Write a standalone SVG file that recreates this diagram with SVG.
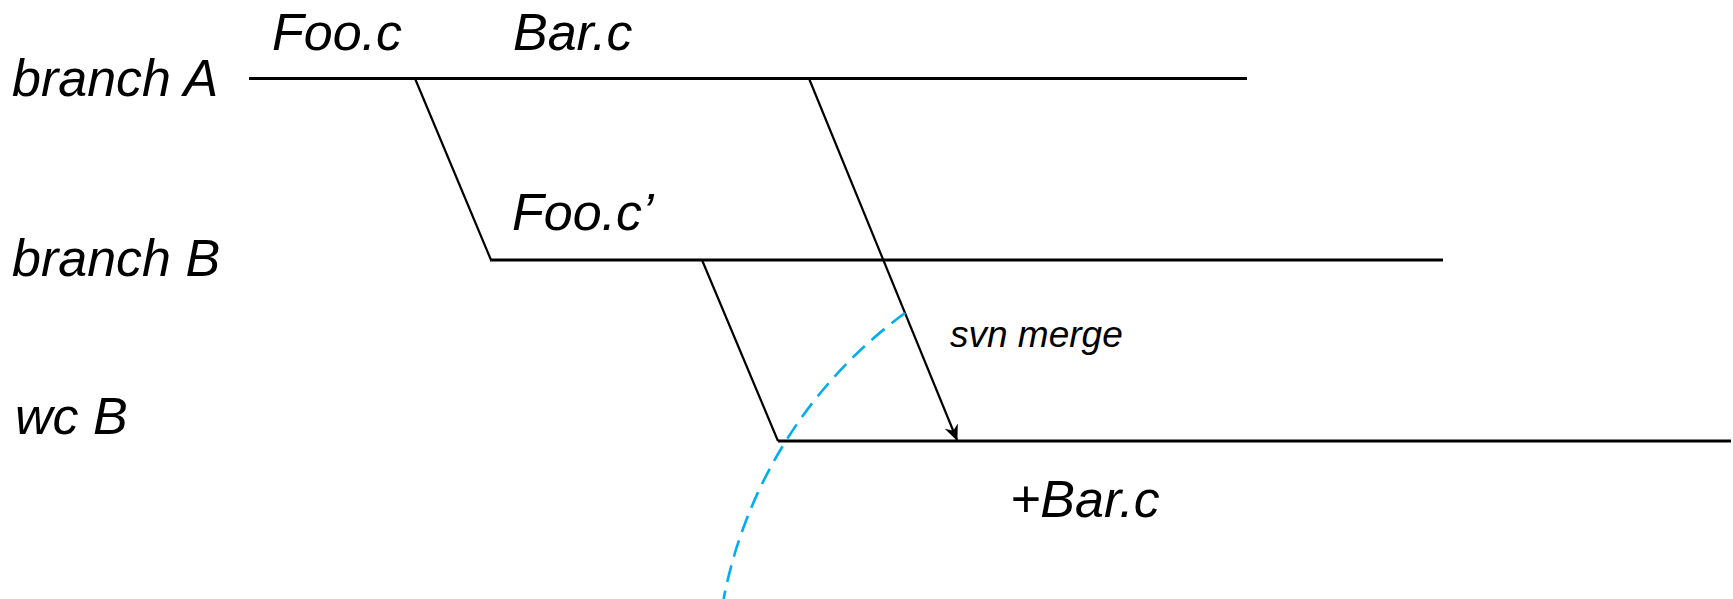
<svg xmlns="http://www.w3.org/2000/svg" width="1733" height="599" viewBox="0 0 1733 599">
<style>
.lbl{font-family:"Liberation Sans",Arial,sans-serif;font-style:italic;font-size:52px;fill:#000}
.sm{font-size:37px}
.h{stroke:#000;stroke-width:3;fill:none}
.d{stroke:#000;stroke-width:2.2;fill:none}
.blue{stroke:#00aeef;stroke-width:2.6;fill:none;stroke-dasharray:17 9}
</style>
<defs>
<marker id="arr" viewBox="0 0 16 14" refX="15" refY="7" markerWidth="16" markerHeight="14" markerUnits="userSpaceOnUse" orient="auto">
<path d="M0,0 L16,7 L0,14 L5,7 Z" fill="#000"/>
</marker>
</defs>
<rect width="1733" height="599" fill="#fff"/>
<g id="branchA">
<line class="h" x1="249" y1="78.5" x2="1247" y2="78.5"/>
<text class="lbl" x="12" y="96">branch A</text>
</g>
<g id="branchB">
<line class="h" x1="490" y1="260" x2="1443" y2="260"/>
<text class="lbl" x="12" y="276">branch B</text>
</g>
<g id="wcB">
<line class="h" x1="778" y1="441" x2="1731" y2="441"/>
<text class="lbl" x="15" y="434">wc B</text>
</g>
<g id="labels">
<text class="lbl" x="272" y="50">Foo.c</text>
<text class="lbl" x="513" y="50">Bar.c</text>
<text class="lbl" x="512" y="230">Foo.c’</text>
<text class="lbl sm" x="950" y="347">svn merge</text>
<text class="lbl" x="1010" y="517">+Bar.c</text>
</g>
<g id="connectors">
<line class="d" x1="415" y1="78.5" x2="491" y2="260"/>
<line class="d" x1="702" y1="260" x2="778" y2="441"/>
<line class="d" x1="809" y1="78.5" x2="957" y2="440" marker-end="url(#arr)"/>
<path class="blue" d="M905,313 A463,463 0 0 0 723.6,599"/>
</g>
</svg>
